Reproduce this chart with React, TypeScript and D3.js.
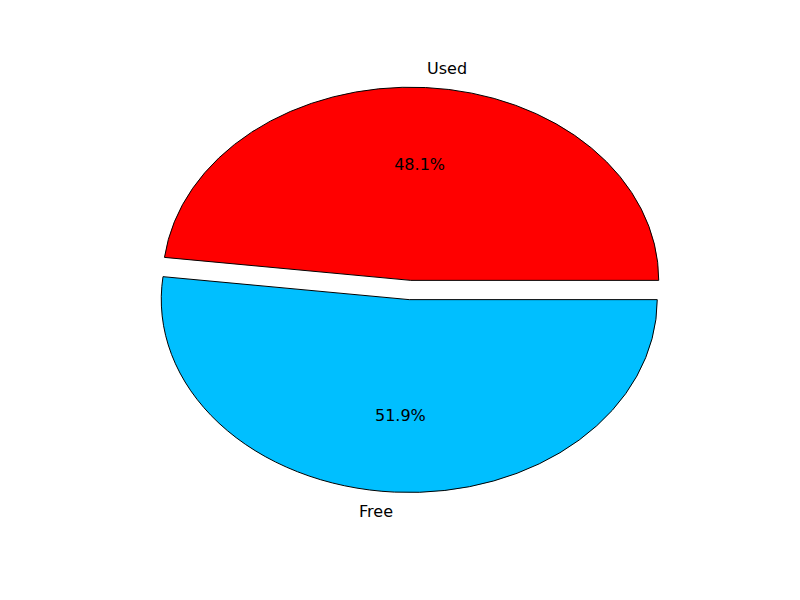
import * as React from 'react';
import * as d3 from "d3";

const labels = ["Used", "Free"];
const values = [48.1, 51.9];
const colors = ["#ff0000", "#00bfff"];
const explode = [0.05, 0.05];

export default function App() {
    const width = 800, height = 600;
    const cx = 410, cy = 290, rx = 248, ry = 193;
    const sx = d3.scaleLinear().domain([-1, 1]).range([cx - rx, cx + rx]);
    const sy = d3.scaleLinear().domain([-1, 1]).range([cy + ry, cy - ry]);
    const total = d3.sum(values);
    let start = 0;
    const wedges = values.map((v, i) => {
        const t1 = start, t2 = start + (v / total) * 2 * Math.PI;
        start = t2;
        const mid = (t1 + t2) / 2;
        return { i, t1, t2, mid, ox: explode[i] * Math.cos(mid), oy: explode[i] * Math.sin(mid) };
    });
    const arc = d3.arc<any>().innerRadius(0).outerRadius(1);
    return (
        <svg width={width} height={height} style={{ display: "block", margin: -8 }}>
            <rect width={width} height={height} fill="#fff" />
            {wedges.map(w => {
                const px = sx(w.ox), py = sy(w.oy);
                const lx = w.ox + 1.1 * Math.cos(w.mid), ly = w.oy + 1.1 * Math.sin(w.mid);
                const tx = w.ox + 0.6 * Math.cos(w.mid), ty = w.oy + 0.6 * Math.sin(w.mid);
                return (
                    <g key={w.i} fontFamily="DejaVu Sans" fontSize={16}>
                        <path transform={`translate(${px},${py}) scale(${rx},${ry})`}
                            d={arc({ startAngle: Math.PI / 2 - w.t1, endAngle: Math.PI / 2 - w.t2 }) || undefined}
                            fill={colors[w.i]} stroke="#000" strokeWidth={1} vectorEffect="non-scaling-stroke" />
                        <text x={sx(tx)} y={sy(ty)} textAnchor="middle" dominantBaseline="central">
                            {values[w.i].toFixed(1)}%
                        </text>
                        <text x={sx(lx)} y={sy(ly)} textAnchor={lx > 0 ? "start" : "end"} dominantBaseline="central">
                            {labels[w.i]}
                        </text>
                    </g>
                );
            })}
        </svg>
    );
}
